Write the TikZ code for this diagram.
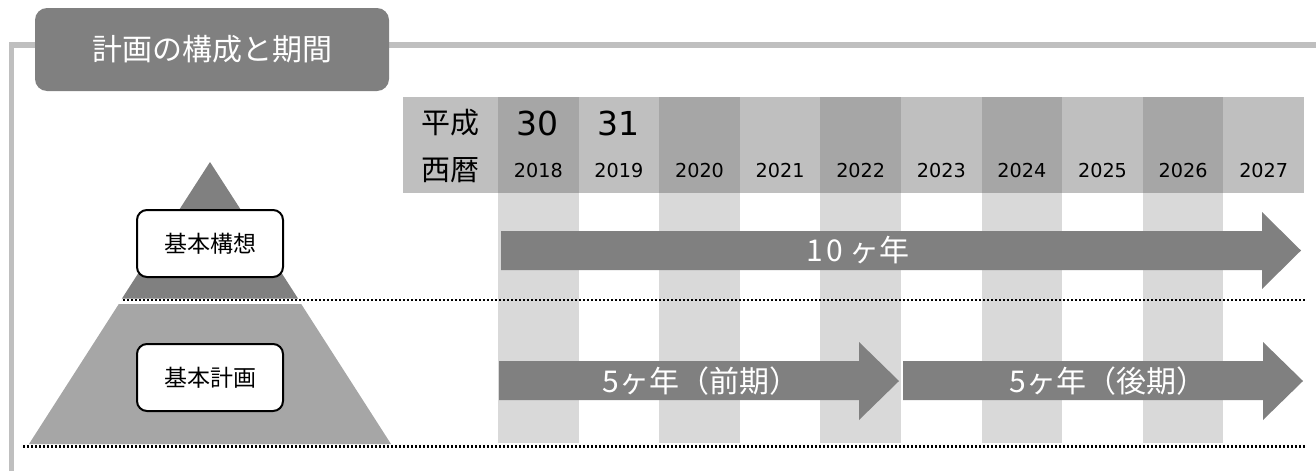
\documentclass[tikz,border=0pt]{standalone}
\usepackage{fontspec}
\setmainfont{Noto Sans CJK JP}
\newfontfamily\cjk{Noto Sans CJK JP}
\newfontfamily\digitfont{DejaVu Sans}
\definecolor{dk}{HTML}{808080}
\definecolor{hdA}{HTML}{A6A6A6}
\definecolor{hdB}{HTML}{BFBFBF}
\definecolor{stripe}{HTML}{D9D9D9}
\definecolor{framec}{HTML}{BFBFBF}
\tikzset{
  cell/.style={anchor=north west, minimum width=40.3pt, minimum height=48pt, inner sep=0pt},
  yeartxt/.style={font=\digitfont\fontsize{9.6}{9.6}\selectfont},
  eratxt/.style={font=\digitfont\fontsize{16.5}{16.5}\selectfont},
  hdtxt/.style={font=\fontsize{14.5}{14.5}\selectfont},
  planbox/.style={draw=black, line width=1pt, fill=white, rounded corners=5pt, minimum width=73pt, minimum height=33.5pt, font=\fontsize{11.5}{11.5}\selectfont},
  arrtxt/.style={text=white, font=\fontsize{15}{15}\selectfont},
  dotline/.style={line width=1.3pt, dash pattern=on 1.1pt off 0.9pt}
}
\begin{document}
\begin{tikzpicture}[x=0.5pt,y=-0.5pt, every node/.style={inner sep=0pt, outer sep=0pt}]
\useasboundingbox (0,0) rectangle (1316,471);
% frame
\draw[framec, line width=2.6pt] (11.5,471) -- (11.5,45) -- (1316,45);
% title
\node[fill=dk, rounded corners=6pt, minimum width=177pt, minimum height=41.5pt, text=white, font=\fontsize{15}{15}\selectfont] (title) at (212,49.5) {計画の構成と期間};
% stripes
\foreach \i in {0,2,4,6,8} {
  \fill[stripe] (498+\i*80.6,193) rectangle ++(80.6,250);
}
% header
\node[cell, fill=hdB, minimum width=47.5pt] (hd) at (403,97) {};
\foreach \i in {0,2,4,6,8} {
  \node[cell, fill=hdA] (c\i) at (498+\i*80.6,97) {};
}
\foreach \i in {1,3,5,7,9} {
  \node[cell, fill=hdB] (c\i) at (498+\i*80.6,97) {};
}
\node[hdtxt] (heisei) at (450.5,123) {平成};
\node[hdtxt] (seireki) at (450.5,170) {西暦};
\node[eratxt] (e30) at (537.5,123) {30};
\node[eratxt] (e31) at (618,123) {31};
\foreach \i/\yr in {0/2018,1/2019,2/2020,3/2021,4/2022,5/2023,6/2024,7/2025,8/2026,9/2027} {
  \node[yeartxt] (y\i) at (538.3+\i*80.6,171) {\yr};
}
% pyramid
\fill[dk] (210,162) -- (298,298.5) -- (122,298.5) -- cycle;
\fill[hdA] (118.8,304) -- (301.2,304) -- (391,444) -- (29,444) -- cycle;
\node[planbox] (kousou) at (210,243.5) {基本構想};
\node[planbox] (keikaku) at (210,377.5) {基本計画};
% arrows
\fill[dk] (501,231) -- (1262,231) -- (1262,212) -- (1301,250.5) -- (1262,289) -- (1262,270) -- (501,270) -- cycle;
\node[arrtxt] (a10) at (858,250.5) {1\kern1.5pt0\kern3pt ヶ年};
\fill[dk] (499,361) -- (859,361) -- (859,342) -- (899,381) -- (859,420) -- (859,400) -- (499,400) -- cycle;
\node[arrtxt] (a5a) at (701,381) {5ヶ年（前期）};
\fill[dk] (903,361) -- (1263,361) -- (1263,342) -- (1303,381) -- (1263,420) -- (1263,400) -- (903,400) -- cycle;
\node[arrtxt] (a5b) at (1108,381) {5ヶ年（後期）};
% dotted lines
\coordinate (m1) at (123,300);
\coordinate (m2) at (1305,300);
\coordinate (b1) at (23,446.5);
\coordinate (b2) at (1305,446.5);
\draw[dotline] (m1) -- (m2);
\draw[dotline] (b1) -- (b2);
\end{tikzpicture}
\end{document}
